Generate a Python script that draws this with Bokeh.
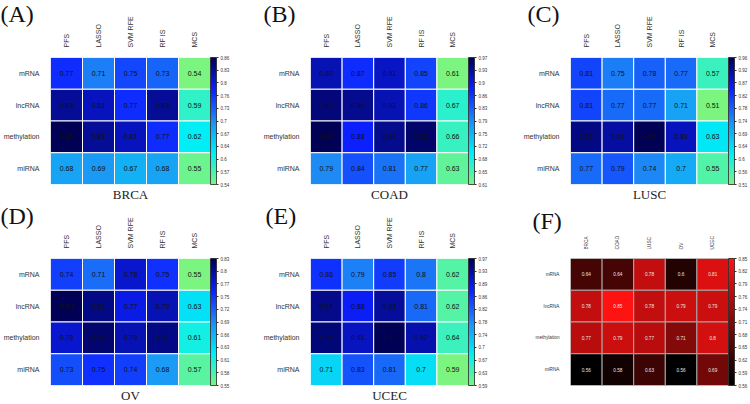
import numpy as np
from bokeh.plotting import figure
from bokeh.models import (ColumnDataSource, LinearColorMapper, ColorBar,
                          FixedTicker, Title, FactorRange)
from bokeh.layouts import gridplot
from bokeh.embed import file_html
from bokeh.resources import INLINE
from bokeh.transform import transform
from bokeh.core.properties import value

# ---------------- data ----------------
rows = ["mRNA", "lncRNA", "methylation", "miRNA"]
methods = ["PFS", "LASSO", "SVM RFE", "RF IS", "MCS"]
cancers = ["BRCA", "COAD", "LUSC", "OV", "UCEC"]

brca = [[0.77, 0.71, 0.75, 0.73, 0.54],
        [0.83, 0.81, 0.77, 0.83, 0.59],
        [0.86, 0.83, 0.81, 0.77, 0.62],
        [0.68, 0.69, 0.67, 0.68, 0.55]]
coad = [[0.92, 0.87, 0.91, 0.85, 0.61],
        [0.95, 0.94, 0.92, 0.86, 0.67],
        [0.97, 0.88, 0.94, 0.96, 0.66],
        [0.79, 0.84, 0.81, 0.77, 0.63]]
lusc = [[0.81, 0.75, 0.78, 0.77, 0.57],
        [0.81, 0.77, 0.77, 0.71, 0.51],
        [0.93, 0.91, 0.96, 0.89, 0.63],
        [0.77, 0.79, 0.74, 0.70, 0.55]]
ov = [[0.74, 0.71, 0.78, 0.75, 0.55],
      [0.83, 0.81, 0.77, 0.79, 0.63],
      [0.78, 0.82, 0.79, 0.81, 0.61],
      [0.73, 0.75, 0.74, 0.68, 0.57]]
ucec = [[0.86, 0.79, 0.85, 0.80, 0.62],
        [0.94, 0.88, 0.93, 0.81, 0.62],
        [0.95, 0.91, 0.97, 0.92, 0.64],
        [0.71, 0.83, 0.81, 0.70, 0.59]]
best = [[0.64, 0.64, 0.78, 0.60, 0.81],
        [0.78, 0.85, 0.78, 0.79, 0.79],
        [0.77, 0.79, 0.77, 0.71, 0.80],
        [0.56, 0.58, 0.63, 0.56, 0.69]]

brca_ticks = ["0.54", "0.57", "0.6", "0.64", "0.67", "0.7", "0.73", "0.76", "0.8", "0.83", "0.86"]
coad_ticks = ["0.61", "0.65", "0.68", "0.72", "0.75", "0.79", "0.83", "0.86", "0.9", "0.93", "0.97"]
lusc_ticks = ["0.51", "0.56", "0.6", "0.64", "0.69", "0.74", "0.78", "0.82", "0.87", "0.92", "0.96"]
ov_ticks = ["0.55", "0.58", "0.61", "0.63", "0.66", "0.69", "0.72", "0.75", "0.77", "0.8", "0.83"]
ucec_ticks = ["0.59", "0.63", "0.67", "0.7", "0.74", "0.78", "0.82", "0.86", "0.89", "0.93", "0.97"]
best_ticks = ["0.56", "0.59", "0.62", "0.65", "0.68", "0.71", "0.74", "0.76", "0.79", "0.82", "0.85"]


# ---------------- palettes ----------------
def make_palette(stops, n=256):
    fr = [s[0] for s in stops]
    t = np.linspace(0, 1, n)
    chans = [np.interp(t, fr, [s[1][k] for s in stops]) for k in range(3)]
    return ["#%02x%02x%02x" % (int(round(r)), int(round(g)), int(round(b)))
            for r, g, b in zip(*chans)]


blue_pal = make_palette([(0.00, (124, 245, 128)),
                         (0.25, (0, 238, 245)),
                         (0.50, (30, 140, 245)),
                         (0.75, (12, 32, 255)),
                         (1.00, (0, 0, 85))])
red_pal = make_palette([(0.0, (0, 0, 0)), (1.0, (255, 18, 18))])

SANS = "Liberation Sans"
SERIF = "Liberation Serif"


def panel(vals, cols, ticklabels, pal, letter, title, W, H, left, right, top, bottom,
          letter_x, letter_standoff, small=False):
    xs, ys, vs, ls = [], [], [], []
    for i, r in enumerate(rows):
        for j, c in enumerate(cols):
            xs.append(c)
            ys.append(r)
            vs.append(vals[i][j])
            ls.append(f"{vals[i][j]:g}")
    src = ColumnDataSource(dict(x=xs, y=ys, v=vs, label=ls))
    vmin = min(vs)
    vmax = max(vs)
    mapper = LinearColorMapper(palette=pal, low=vmin, high=vmax)

    p = figure(width=W, height=H, x_range=FactorRange(factors=cols),
               y_range=FactorRange(factors=rows[::-1]), x_axis_location="above",
               output_backend="svg", toolbar_location=None, tools="",
               min_border_left=left, min_border_right=right,
               min_border_top=top, min_border_bottom=bottom)
    p.rect(x="x", y="y", width=1, height=1, source=src,
           fill_color=transform("v", mapper),
           line_color="#a8a8a8" if small else "white", line_width=1)
    fs = "4.7px" if small else "7px"
    p.text(x="x", y="y", text="label", source=src, text_align="center",
           text_baseline="middle", text_font_size=fs, text_font=value(SANS),
           text_color="#e6e6e6" if small else "#111111")

    p.grid.visible = False
    p.outline_line_color = None
    p.axis.axis_line_color = None
    p.axis.major_tick_line_color = None
    p.axis.minor_tick_line_color = None
    p.axis.major_label_text_font = SANS
    p.axis.major_label_text_font_size = fs
    p.axis.major_label_text_color = "#333333"
    p.xaxis.major_label_orientation = np.pi / 2
    p.xaxis.major_label_standoff = 3 if small else 4
    p.yaxis.major_label_standoff = 5

    ticks = [round(float(t), 6) for t in np.linspace(vmin, vmax, 11)]
    cb = ColorBar(color_mapper=mapper, ticker=FixedTicker(ticks=ticks),
                  major_label_overrides=dict(zip(ticks, ticklabels)),
                  width=6, padding=0, margin=1, major_tick_in=0, major_tick_out=2,
                  major_tick_line_color="#333333", major_label_text_font_size="4.5px",
                  major_label_text_font=SANS, major_label_text_color="#333333",
                  label_standoff=2, bar_line_color="#222222", bar_line_width=0.8,
                  border_line_color=None, background_fill_alpha=0)
    p.add_layout(cb, "right")

    p.add_layout(Title(text=letter, align="left", offset=letter_x - left,
                       standoff=letter_standoff, vertical_align="bottom",
                       text_font=SERIF, text_font_size="24px", text_font_style="normal",
                       text_color="#111111"), "above")
    if title:
        p.add_layout(Title(text=title, align="center", standoff=1,
                           text_font=SERIF, text_font_size="13px", text_font_style="normal",
                           text_color="#222222"), "below")
    return p


pA = panel(brca, methods, brca_ticks, blue_pal, "(A)", "BRCA", 250, 203, 50, 40, 57, 19, 0, -26)
pB = panel(coad, methods, coad_ticks, blue_pal, "(B)", "COAD", 250, 203, 60, 32, 57, 19, 13, -26)
pC = panel(lusc, methods, lusc_ticks, blue_pal, "(C)", "LUSC", 250, 203, 70, 20, 57, 19, 27, -26)
pD = panel(ov, methods, ov_ticks, blue_pal, "(D)", "OV", 250, 201, 50, 40, 55, 18, 0, -28)
pE = panel(ucec, methods, ucec_ticks, blue_pal, "(E)", "UCEC", 250, 201, 60, 32, 55, 18, 15, -28)
pF = panel(best, cancers, best_ticks, red_pal, "(F)", None, 250, 201, 70, 20, 50, 19, 32, -3, small=True)

grid = gridplot([[pA, pB, pC], [pD, pE, pF]], toolbar_location=None)
open("out.html", "w").write(file_html(grid, INLINE))
